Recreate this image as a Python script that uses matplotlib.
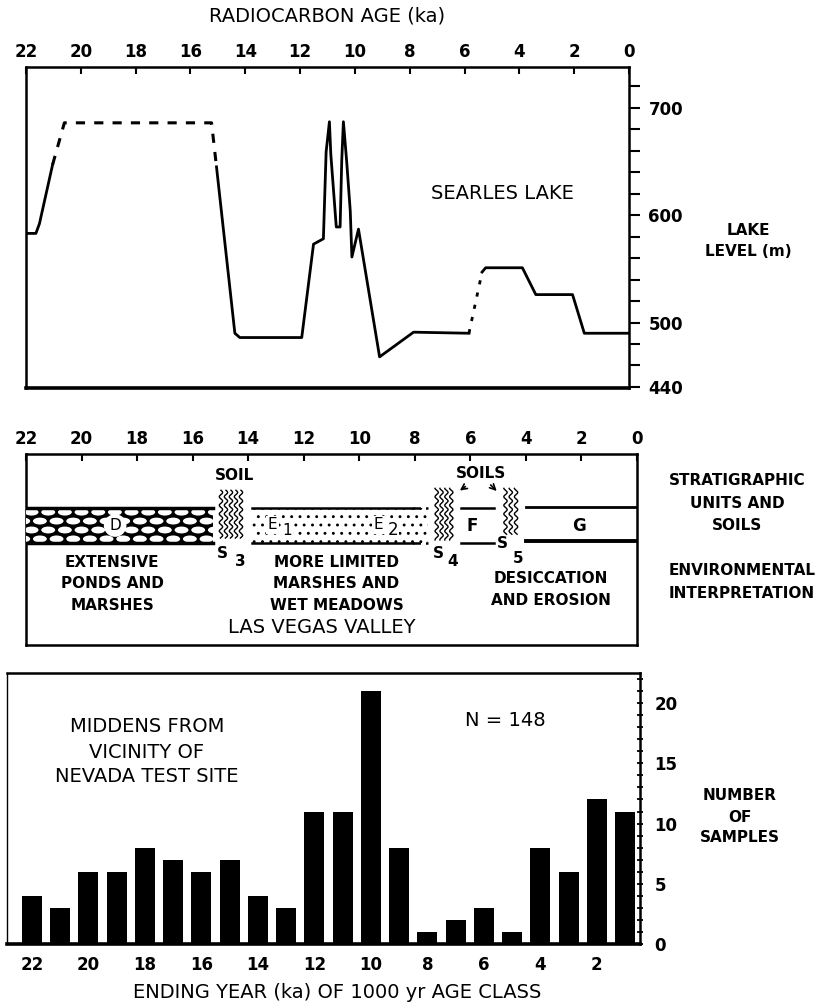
import numpy as np
import matplotlib
matplotlib.use('Agg')
import matplotlib.pyplot as plt
from matplotlib.patches import Rectangle, Ellipse

# ---------------- data ----------------
# Searles Lake level (m) vs radiocarbon age (ka)
lake_solid1_age = [22.0, 21.64, 21.51, 21.03]
lake_solid1_lvl = [583, 583, 592, 647]
lake_dash_age = [21.03, 20.6, 15.23, 15.05]
lake_dash_lvl = [647, 686, 686, 645]
lake_solid2_age = [15.05, 14.38, 14.2, 11.94, 11.51, 11.15, 11.05, 10.93, 10.88, 10.78,
                   10.68, 10.54, 10.48, 10.42, 10.30, 10.17, 10.11, 9.87, 9.1, 7.86, 5.84]
lake_solid2_lvl = [645, 490, 486, 486, 573, 578, 659, 687, 657, 623,
                   589, 589, 651, 687, 650, 604, 561, 587, 468, 491, 490]
lake_dot_age = [5.84, 5.36]
lake_dot_lvl = [490, 547]
lake_solid3_age = [5.36, 5.23, 3.89, 3.4, 2.06, 1.63, 0.0]
lake_solid3_lvl = [547, 551, 551, 526, 526, 490, 490]

lake_ticks = list(range(440, 740, 20))
lake_labels = {700: '700', 600: '600', 500: '500', 440: '440'}
age_ticks = list(range(22, -1, -2))

# Las Vegas Valley stratigraphy (ka extents)
unit_D = (22.0, 15.26)
unit_E = (13.85, 7.54)
unit_E_solid_end = 8.08
unit_F = (6.35, 5.16)
unit_G = (4.0, 0.0)
soil_S3 = (15.07, 14.17)
soil_S4 = (7.3, 6.6)
soil_S5 = (4.83, 4.26)

# Middens: ending year (ka) of 1000-yr age class and number of samples
midden_class_end = list(range(22, 0, -1))
midden_counts = [4, 3, 6, 6, 8, 7, 6, 7, 4, 3, 11, 11, 21, 8, 1, 2, 3, 1, 8, 6, 12, 11]
midden_tick_labels = list(range(22, 0, -2))

# ---------------- figure ----------------
W, H = 837, 1006
fig = plt.figure(figsize=(W / 100, H / 100), dpi=100)
FONT = 'DejaVu Sans'
plt.rcParams['font.family'] = FONT
plt.rcParams['hatch.linewidth'] = 0.9


def axes_px(l, t, r, b):
    return fig.add_axes([l / W, 1 - b / H, (r - l) / W, (b - t) / H])


def ftext(x, y, s, **kw):
    kw.setdefault('ha', 'center')
    kw.setdefault('va', 'center')
    fig.text(x / W, 1 - y / H, s, **kw)


# ---------- top panel: Searles Lake ----------
ax1 = axes_px(26, 67, 629, 388)
ax1.plot(lake_solid1_age, lake_solid1_lvl, color='black', lw=2.0)
ax1.plot(lake_dash_age, lake_dash_lvl, color='black', lw=2.2, ls=(0, (3, 3)))
ax1.plot(lake_solid2_age, lake_solid2_lvl, color='black', lw=2.0)
ax1.plot(lake_dot_age, lake_dot_lvl, color='black', lw=2.0, ls=(0, (1.5, 3)))
ax1.plot(lake_solid3_age, lake_solid3_lvl, color='black', lw=2.0)
ax1.set_xlim(22, 0)
ax1.set_ylim(439, 738)
ax1.xaxis.tick_top()
ax1.set_xticks(age_ticks)
ax1.set_xticklabels([str(a) for a in age_ticks], fontsize=12, fontweight='bold')
ax1.tick_params(axis='x', direction='in', length=5, width=1.5, pad=4)
ax1.yaxis.tick_right()
ax1.set_yticks(lake_ticks)
ax1.set_yticklabels([lake_labels.get(v, '') for v in lake_ticks], fontsize=12, fontweight='bold')
ax1.tick_params(axis='y', direction='out', length=8, width=1.5, pad=6)
for s in ['top', 'left', 'right']:
    ax1.spines[s].set_linewidth(1.8)
ax1.spines['bottom'].set_linewidth(2.6)
ax1.text(4.6, 620, 'SEARLES LAKE', fontsize=14, ha='center', va='center')
ftext(327, 16, 'RADIOCARBON AGE (ka)', fontsize=14)
ftext(748, 241, 'LAKE\nLEVEL (m)', fontsize=11, fontweight='bold', linespacing=1.5)

# ---------- middle panel: Las Vegas Valley ----------
ax2 = axes_px(26, 454, 637, 645)
ax2.set_xlim(22, 0)
ax2.set_ylim(0, 1)
ax2.xaxis.tick_top()
ax2.set_xticks(age_ticks)
ax2.set_xticklabels([str(a) for a in age_ticks], fontsize=12, fontweight='bold')
ax2.tick_params(axis='x', direction='in', length=5, width=1.5, pad=4)
ax2.set_yticks([])
for s in ax2.spines.values():
    s.set_linewidth(1.8)

yb, yt = 0.532, 0.719
# unit D: black with white ellipses
rectD = Rectangle((unit_D[1], yb), unit_D[0] - unit_D[1], yt - yb, facecolor='black',
                  edgecolor='none', zorder=2)
ax2.add_patch(rectD)
nrows = 4
ew, eh = 0.50, 0.036
dx = 0.60
for r in range(nrows):
    yc = yb + (r + 0.5) * (yt - yb) / nrows
    off = (r % 2) * dx / 2
    xc = unit_D[0] + 0.1 - off
    while xc > unit_D[1] - dx:
        e = Ellipse((xc, yc), ew, eh, facecolor='white', edgecolor='none', zorder=3)
        ax2.add_patch(e)
        e.set_clip_path(rectD)
        xc -= dx
ax2.plot([unit_D[0], unit_D[1]], [yt, yt], color='black', lw=2.5, zorder=4)
ax2.plot([unit_D[0], unit_D[1]], [yb, yb], color='black', lw=2.5, zorder=4)
ax2.text(18.79, (yb + yt) / 2, 'D', fontsize=11, ha='center', va='center', zorder=5,
         bbox=dict(boxstyle='circle,pad=0.25', fc='white', ec='none'))

# unit E: stippled
rectE = Rectangle((unit_E[1], yb), unit_E[0] - unit_E[1], yt - yb, facecolor='white',
                  edgecolor='black', lw=0, hatch='..', zorder=2)
ax2.add_patch(rectE)
for yy in (yt, yb):
    ax2.plot([unit_E[0], unit_E_solid_end], [yy, yy], color='black', lw=1.8, zorder=4)
    ax2.plot([unit_E_solid_end, unit_E[1]], [yy, yy], color='black', lw=1.8,
             ls=(0, (3, 2)), zorder=4)
ax2.text(13.13, 0.63, 'E', fontsize=11, ha='center', va='center', zorder=5,
         bbox=dict(boxstyle='square,pad=0.1', fc='white', ec='none'))
ax2.text(12.6, 0.60, '1', fontsize=11, ha='center', va='center', zorder=5,
         bbox=dict(boxstyle='square,pad=0.05', fc='white', ec='none'))
ax2.text(9.31, 0.63, 'E', fontsize=11, ha='center', va='center', zorder=5,
         bbox=dict(boxstyle='square,pad=0.1', fc='white', ec='none'))
ax2.text(8.8, 0.60, '2', fontsize=12, ha='center', va='center', zorder=5,
         bbox=dict(boxstyle='square,pad=0.05', fc='white', ec='none'))

# unit F
for yy in (yt, yb):
    ax2.plot([unit_F[0], unit_F[1]], [yy, yy], color='black', lw=1.8)
ax2.text(5.92, 0.625, 'F', fontsize=12, fontweight='bold', ha='center', va='center')

# unit G
ax2.plot([unit_G[0], unit_G[1]], [yt + 0.005, yt + 0.005], color='black', lw=2.0)
ax2.plot([unit_G[0], unit_G[1]], [yb + 0.01, yb + 0.01], color='black', lw=2.8)
ax2.text(2.09, 0.625, 'G', fontsize=12, fontweight='bold', ha='center', va='center')


def soil(x0, x1, y0, y1, n):
    ys = np.linspace(y0, y1, 300)
    for i in range(n):
        xc = x0 + (i + 0.5) * (x1 - x0) / n
        ax2.plot(xc + 0.06 * np.sin(2 * np.pi * ys / 0.045), ys, color='black', lw=1.0)


soil(soil_S3[0], soil_S3[1], 0.56, 0.81, 5)
soil(soil_S4[0], soil_S4[1], 0.55, 0.82, 4)
soil(soil_S5[0], soil_S5[1], 0.58, 0.82, 3)

ax2.text(14.5, 0.885, 'SOIL', fontsize=11, fontweight='bold', ha='center', va='center')
ax2.text(5.63, 0.90, 'SOILS', fontsize=11, fontweight='bold', ha='center', va='center')
ax2.annotate('', xy=(6.46, 0.80), xytext=(6.10, 0.838),
             arrowprops=dict(arrowstyle='->', lw=1.2, color='black'))
ax2.annotate('', xy=(4.98, 0.796), xytext=(5.34, 0.848),
             arrowprops=dict(arrowstyle='->', lw=1.2, color='black'))
ax2.text(14.93, 0.48, 'S', fontsize=11, fontweight='bold', ha='center', va='center')
ax2.text(14.28, 0.435, '3', fontsize=11, fontweight='bold', ha='center', va='center')
ax2.text(7.14, 0.48, 'S', fontsize=11, fontweight='bold', ha='center', va='center')
ax2.text(6.64, 0.435, '4', fontsize=11, fontweight='bold', ha='center', va='center')
ax2.text(4.83, 0.53, 'S', fontsize=11, fontweight='bold', ha='center', va='center')
ax2.text(4.29, 0.455, '5', fontsize=11, fontweight='bold', ha='center', va='center')

ax2.text(18.9, 0.32, 'EXTENSIVE\nPONDS AND\nMARSHES', fontsize=11, fontweight='bold',
         ha='center', va='center', linespacing=1.55)
ax2.text(10.82, 0.32, 'MORE LIMITED\nMARSHES AND\nWET MEADOWS', fontsize=11,
         fontweight='bold', ha='center', va='center', linespacing=1.55)
ax2.text(3.1, 0.29, 'DESICCATION\nAND EROSION', fontsize=11, fontweight='bold',
         ha='center', va='center', linespacing=1.55)
ax2.text(11.36, 0.09, 'LAS VEGAS VALLEY', fontsize=14, ha='center', va='center')

ftext(737, 503, 'STRATIGRAPHIC\nUNITS AND\nSOILS', fontsize=11, fontweight='bold',
      linespacing=1.6)
ftext(742, 582, 'ENVIRONMENTAL\nINTERPRETATION', fontsize=11, fontweight='bold',
      linespacing=1.6)

# ---------- bottom panel: middens ----------
ax3 = axes_px(7, 673, 640, 944)
ax3.bar(midden_class_end, midden_counts, width=0.71, color='black', zorder=2)
ax3.set_xlim(22.885, 0.47)
ax3.set_ylim(0, 22.5)
ax3.set_xticks(midden_tick_labels)
ax3.set_xticklabels([str(v) for v in midden_tick_labels], fontsize=12, fontweight='bold')
ax3.tick_params(axis='x', length=0, pad=9)
ax3.yaxis.tick_right()
ax3.set_yticks([0, 5, 10, 15, 20])
ax3.set_yticklabels(['0', '5', '10', '15', '20'], fontsize=12, fontweight='bold')
ax3.set_yticks(list(range(0, 23)), minor=True)
ax3.tick_params(axis='y', which='both', direction='inout', length=5, width=1.3, pad=8)
ax3.spines['left'].set_linewidth(1.0)
ax3.spines['top'].set_linewidth(1.8)
ax3.spines['right'].set_linewidth(1.8)
ax3.spines['bottom'].set_linewidth(2.6)
ftext(147, 752, 'MIDDENS FROM\nVICINITY OF\nNEVADA TEST SITE', fontsize=14, linespacing=1.4)
ftext(505, 721, 'N = 148', fontsize=14)
ftext(740, 817, 'NUMBER\nOF\nSAMPLES', fontsize=11, fontweight='bold', linespacing=1.5)
ftext(337, 993, 'ENDING YEAR (ka) OF 1000 yr AGE CLASS', fontsize=14)

fig.savefig('out.png', dpi=100)
